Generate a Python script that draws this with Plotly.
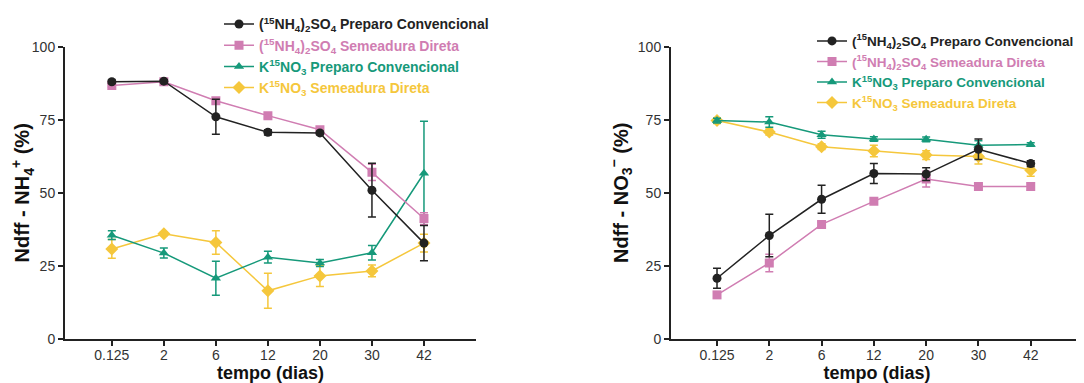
import plotly.graph_objects as go

categories = ["0.125", "2", "6", "12", "20", "30", "42"]

# Left panel: Ndff - NH4+ (%)
nh4_pc_sulf = [88.0, 88.2, 76.0, 70.7, 70.5, 50.9, 32.8]
nh4_pc_sulf_err = [0.6, 0.5, 6.0, 0.9, 0.6, 9.2, 6.0]
nh4_sd_sulf = [86.7, 88.0, 81.5, 76.4, 71.6, 57.0, 41.2]
nh4_sd_sulf_err = [0.6, 0.5, 0.8, 0.8, 0.8, 2.8, 2.0]
nh4_pc_nit = [35.5, 29.4, 20.8, 28.0, 26.0, 29.5, 56.7]
nh4_pc_nit_err = [1.5, 1.7, 5.8, 2.0, 1.2, 2.5, 17.8]
nh4_sd_nit = [30.8, 36.0, 33.0, 16.5, 21.6, 23.3, 32.8]
nh4_sd_nit_err = [3.2, 0.6, 4.0, 6.0, 3.6, 2.0, 3.0]

# Right panel: Ndff - NO3- (%)
no3_pc_sulf = [20.8, 35.4, 47.8, 56.6, 56.4, 64.9, 60.0]
no3_pc_sulf_err = [3.4, 7.3, 4.8, 3.4, 2.2, 3.5, 1.0]
no3_sd_sulf = [15.1, 26.0, 39.2, 47.1, 54.7, 52.2, 52.2]
no3_sd_sulf_err = [0.8, 3.0, 0.8, 0.8, 2.7, 0.8, 1.2]
no3_pc_nit = [74.7, 74.2, 69.9, 68.4, 68.3, 66.3, 66.5]
no3_pc_nit_err = [0.8, 1.8, 1.2, 0.8, 0.8, 1.5, 0.6]
no3_sd_nit = [74.7, 70.8, 65.8, 64.3, 62.9, 62.4, 57.7]
no3_sd_nit_err = [1.0, 1.0, 1.0, 2.0, 1.5, 2.5, 2.0]

BLACK = "#222222"
PINK = "#d07db2"
GREEN = "#16997a"
YELLOW = "#f5c73c"

names = [
    f"<span style='color:{BLACK}'><b>(<sup>15</sup>NH<sub>4</sub>)<sub>2</sub>SO<sub>4</sub> Preparo Convencional</b></span>",
    f"<span style='color:{PINK}'><b>(<sup>15</sup>NH<sub>4</sub>)<sub>2</sub>SO<sub>4</sub> Semeadura Direta</b></span>",
    f"<span style='color:{GREEN}'><b>K<sup>15</sup>NO<sub>3</sub> Preparo Convencional</b></span>",
    f"<span style='color:{YELLOW}'><b>K<sup>15</sup>NO<sub>3</sub> Semeadura Direta</b></span>",
]
colors = [BLACK, PINK, GREEN, YELLOW]
symbols = ["circle", "square", "triangle-up", "diamond"]

left_series = [(nh4_pc_sulf, nh4_pc_sulf_err), (nh4_sd_sulf, nh4_sd_sulf_err),
               (nh4_pc_nit, nh4_pc_nit_err), (nh4_sd_nit, nh4_sd_nit_err)]
right_series = [(no3_pc_sulf, no3_pc_sulf_err), (no3_sd_sulf, no3_sd_sulf_err),
                (no3_pc_nit, no3_pc_nit_err), (no3_sd_nit, no3_sd_nit_err)]

fig = go.Figure()

# draw in reverse so black is on top
order = [3, 2, 1, 0]
for panel, series, xa, ya, lg in [(0, left_series, "x", "y", "legend"),
                                  (1, right_series, "x2", "y2", "legend2")]:
    for i in order:
        vals, errs = series[i]
        fig.add_trace(go.Scatter(
            x=categories, y=vals, xaxis=xa, yaxis=ya,
            mode="lines+markers", name=names[i], legend=lg,
            legendrank=i + 1,
            line=dict(color=colors[i], width=1.5),
            marker=dict(symbol=symbols[i], size=9 if i != 3 else 10, color=colors[i]),
            error_y=dict(type="data", array=errs, visible=True, color=colors[i],
                         thickness=1.5, width=4),
        ))

axis_common = dict(showline=True, linecolor="#222222", linewidth=2, ticks="outside",
                   ticklen=5, tickwidth=1.5, tickcolor="#222222", showgrid=False,
                   zeroline=False, tickfont=dict(family="Liberation Sans, Arial", size=14, color="#333333"))

xdom_l = [57 / 1084, 468 / 1084]
xdom_r = [663 / 1084, 1075 / 1084]
ydom = [1 - 337 / 383, 1 - 31 / 383]

xtitle_font = dict(family="Liberation Sans, Arial", size=18, color="#111111")
ytitle_font = dict(family="Liberation Sans, Arial", size=20, color="#111111")

fig.update_layout(
    width=1084, height=383,
    margin=dict(l=0, r=0, t=0, b=0),
    paper_bgcolor="white", plot_bgcolor="white",
    showlegend=True,
    font=dict(family="Liberation Sans, Arial"),
    xaxis=dict(domain=xdom_l, type="category", range=[-0.9, 7.0], anchor="y", ticklabelstandoff=-3,
               title=dict(text="<b>tempo (dias)</b>", font=xtitle_font, standoff=0), **axis_common),
    yaxis=dict(domain=ydom, range=[0, 100], tickvals=[0, 25, 50, 75, 100], anchor="x",
               title=dict(text="<b>Ndff - NH<sub>4</sub><sup>+</sup> (%)</b>", font=ytitle_font, standoff=4),
               **axis_common),
    xaxis2=dict(domain=xdom_r, type="category", range=[-0.88, 7.0], anchor="y2", ticklabelstandoff=-3,
                title=dict(text="<b>tempo (dias)</b>", font=xtitle_font, standoff=0), **axis_common),
    yaxis2=dict(domain=ydom, range=[0, 100], tickvals=[0, 25, 50, 75, 100], anchor="x2",
                title=dict(text="<b>Ndff - NO<sub>3</sub><sup>−</sup> (%)</b>", font=ytitle_font, standoff=4),
                **axis_common),
    legend=dict(x=211 / 1084, y=1 + 9 / 383, xanchor="left", yanchor="top",
                bgcolor="rgba(0,0,0,0)", font=dict(family="Liberation Sans, Arial", size=14),
                tracegroupgap=0, traceorder="normal"),
    legend2=dict(x=804 / 1084, y=1 - 9 / 383, xanchor="left", yanchor="top",
                 bgcolor="rgba(0,0,0,0)", font=dict(family="Liberation Sans, Arial", size=13.5),
                 tracegroupgap=0, traceorder="normal"),
)

fig.write_html("out.html")
